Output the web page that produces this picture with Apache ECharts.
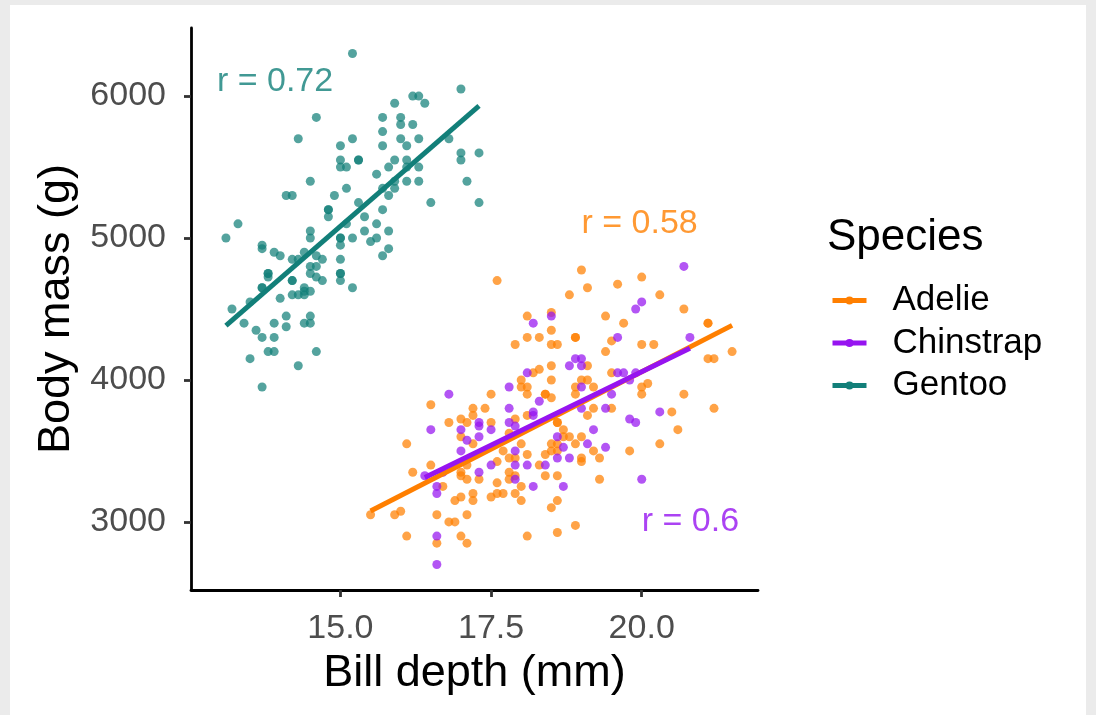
<!DOCTYPE html>
<html><head><meta charset="utf-8">
<script src="https://cdn.jsdelivr.net/npm/echarts@6/dist/echarts.min.js"></script>
<style>
html,body{margin:0;padding:0;background:#ebebeb;}
#bg{position:absolute;left:10px;top:5px;width:1076px;height:710px;background:#fff;}
#chart{position:absolute;left:0;top:0;width:1096px;height:715px;}
</style></head><body>
<div id="bg"></div><div id="chart"></div>
<script>
// ---- data ----
const speciesNames = ['Adelie', 'Chinstrap', 'Gentoo'];
const xTicks = [15, 17.5, 20];
const yTicks = [3000, 4000, 5000, 6000];
const corrLabels = ['r = 0.58', 'r = 0.6', 'r = 0.72'];
const corrLabelX = [19.0, 20.0, 12.95];
const corrLabelY = [5100, 3000, 6100];

const adelieDepth = [17.6,16.5,17.2,17.4,17.5,19.0,19.1,18.8,18.1,18.5,19.4,18.5,18.1,18.3,18.9,18.9,17.9,18.5,18.6,19.4,19.5,19.1,18.5,18.3,18.2,18.0,18.5,19.0,19.1,18.0,18.1,18.9,19.2,18.1,18.4,18.4,18.5,18.9,
20.0,19.6,20.3,20.7,19.7,21.1,21.1,20.0,20.2,21.5,21.1,21.2,19.5,20.1,20.0,20.0,20.7,
19.5,20.5,21.2,20.6,20.3,19.8,19.3,19.3,
17.2,16.8,17.0,17.1,17.0,17.2,16.1,16.5,16.2,17.0,17.0,17.1,17.1,17.3,16.7,17.2,17.2,16.9,17.0,17.5,15.5,15.9,16.0,16.6,16.8,16.9,17.1,16.1,16.6,17.0,17.1,
17.9,18.1,17.5,17.8,18.6,18.6,18.7,18.7,18.8,19.0,19.2,19.1,18.9,18.5,18.6,18.0,19.2,18.5,18.6,18.4,18.1,17.7,17.8,17.9,17.6,18.3,19.0,19.0,17.8,17.9,17.8,17.6,18.0,18.4,18.6,17.6,17.7,17.9,18.0,18.6,18.5,18.9,18.1,18.6];
const adelieMass = [4700,3825,3800,3800,3900,4775,4650,4600,4450,4475,4450,4350,4300,4300,4300,4300,4250,4250,4250,4200,4275,4100,4100,4075,4050,4000,4000,4000,4000,3950,3950,3950,3950,3900,3900,3900,3875,3900,
4725,4675,4600,4500,4400,4400,4400,4250,4250,4200,4150,4150,4050,3975,3950,3900,3900,
3800,3775,3800,3650,3550,3500,3450,3300,
3750,3700,3725,3700,3600,3550,3550,3400,3350,3350,3325,3400,3300,3300,3250,3200,3150,3150,3175,3175,3050,3050,3075,3050,3000,3000,3050,2900,2850,2900,2850,
3725,3750,3700,3625,3700,3700,3650,3600,3600,3600,3800,3750,3550,3550,3550,3550,3500,3500,3500,3475,3475,3500,3450,3450,3425,3400,3450,3425,3350,3325,3300,3275,3250,3325,3325,3200,3200,3200,3150,3150,3100,2975,2900,2925];

const chinstrapDepth = [16.8,18.2,18.5,18.9,19.0,18.8,19.0,18.1,17.8,19.0,18.3,20.7,20.0,19.9,19.6,20.8,19.6,19.7,19.9,19.8,19.5,19.4,19.8,19.9,20.3,19.4,20.0,
16.4,17.3,17.3,16.5,17.0,17.3,17.1,17.0,16.7,17.3,16.6,16.6,16.6,16.6,
17.8,18.2,18.2,17.8,17.9,17.5,18.6,19.0,19.2,19.1,18.7,17.9,17.5,17.9,18.1,18.4,18.6,18.8,17.9,18.2,18.7];
const chinstrapMass = [3900,4400,4450,4150,4150,4100,4100,4050,3950,3950,3850,4800,4550,4500,4300,4300,4050,4050,4050,4000,3900,3800,3725,3700,3775,3525,3300,
3325,3700,3675,3650,3650,3600,3575,3500,3350,3350,3250,3200,2900,2700,
3800,3775,3750,3700,3675,3650,3600,3800,3650,3550,3525,3500,3400,3400,3400,3400,3450,3450,3300,3250,3250];

const gentooDepth = [14.6,14.3,15.0,15.0,15.0,14.5,14.1,14.2,14.9,14.8,14.8,14.8,13.3,13.1,
15.2,17.0,16.2,16.3,15.9,16.4,15.7,16.0,16.0,16.2,15.7,15.2,16.0,16.3,16.8,15.7,16.1,17.0,17.3,15.3,15.3,15.9,16.1,17.0,15.1,15.8,16.1,16.3,15.6,15.1,15.7,15.9,15.9,16.1,16.3,17.1,15.8,16.5,17.3,15.3,15.7,15.4,
14.5,14.5,13.7,13.7,13.9,14.0,14.4,14.2,14.3,14.6,14.7,14.5,14.6,14.5,14.6,14.7,13.8,13.8,13.8,14.2,14.2,13.7,13.7,13.5,14.0,14.2,14.3,14.4,14.5,14.4,14.4,13.2,13.4,13.6,13.7,13.9,13.9,14.1,14.1,14.4,14.5,14.5,13.8,13.9,14.6,13.5,14.3,13.7,
15.1,15.6,15.0,15.0,15.2,15.4,15.6,15.5,15.8,15.8,15.7,15.0,15.0,15.0,15.0,15.0,15.2];
const gentooMass = [5850,5700,5650,5550,5500,5400,5300,5300,5300,5200,5200,5150,5100,5000,
6300,6050,6000,6000,5950,5950,5850,5850,5800,5800,5750,5700,5700,5700,5700,5650,5650,5600,5600,5550,5550,5550,5550,5550,5500,5500,5500,5500,5450,5350,5350,5350,5400,5400,5400,5400,5300,5250,5250,5250,5200,5150,
5050,5000,4950,4925,4900,4875,4900,4850,4850,4875,4850,4800,4800,4750,4725,4700,4750,4750,4725,4700,4700,4650,4650,4550,4575,4600,4600,4600,4625,4650,4625,4500,4400,4350,4300,4400,4300,4450,4375,4400,4400,4450,4200,4200,4200,4150,4100,3950,
5100,5100,5000,5000,5000,5050,5000,4975,5050,4925,4875,4950,4850,4750,4750,4700,4650];

// ---- helpers ----
const FONT = '"Liberation Sans", Arial, Helvetica, sans-serif';
const colors = {Adelie: '#FF7F00', Chinstrap: '#9614F0', Gentoo: '#127F79'};
const pts = {
  Adelie: adelieDepth.map((d, i) => [d, adelieMass[i]]),
  Chinstrap: chinstrapDepth.map((d, i) => [d, chinstrapMass[i]]),
  Gentoo: gentooDepth.map((d, i) => [d, gentooMass[i]])
};
function fitLine(xs, ys) {
  const n = xs.length;
  const mx = xs.reduce((a, b) => a + b, 0) / n;
  const my = ys.reduce((a, b) => a + b, 0) / n;
  let sxy = 0, sxx = 0;
  for (let i = 0; i < n; i++) { sxy += (xs[i] - mx) * (ys[i] - my); sxx += (xs[i] - mx) ** 2; }
  const b = sxy / sxx, a = my - b * mx;
  const x0 = Math.min(...xs), x1 = Math.max(...xs);
  return [[x0, a + b * x0], [x1, a + b * x1]];
}
const fits = {
  Adelie: fitLine(adelieDepth, adelieMass),
  Chinstrap: fitLine(chinstrapDepth, chinstrapMass),
  Gentoo: fitLine(gentooDepth, gentooMass)
};

const series = [];
// regression lines (listed first so legend uses the line icon; drawn above points by z)
speciesNames.forEach(s => {
  series.push({
    name: s, type: 'line', data: fits[s], z: 4, symbol: 'circle', showSymbol: false,
    lineStyle: {color: colors[s], width: 5}, itemStyle: {color: colors[s]},
    silent: true, animation: false
  });
});
// points in row order of the data set: Adelie, Gentoo, Chinstrap
['Adelie', 'Gentoo', 'Chinstrap'].forEach(s => {
  series.push({
    name: s, type: 'scatter', data: pts[s], z: 2, symbolSize: 9,
    itemStyle: {color: colors[s], opacity: 0.72}, silent: true, animation: false
  });
});
// correlation labels
speciesNames.forEach((s, i) => {
  series.push({
    name: 'lab' + s, type: 'scatter', data: [[corrLabelX[i], corrLabelY[i]]], symbolSize: 0, z: 5,
    label: {show: true, position: 'right', distance: 0, formatter: corrLabels[i],
      color: colors[s], fontSize: 34, fontFamily: FONT},
    silent: true, animation: false
  });
});

const chart = echarts.init(document.getElementById('chart'));
chart.setOption({
  backgroundColor: 'transparent',
  animation: false,
  grid: {left: 191, top: 28, width: 567, height: 562},
  xAxis: {
    type: 'value', min: 12.52, max: 21.93,
    name: 'Bill depth (mm)', nameLocation: 'middle', nameGap: 60,
    nameTextStyle: {fontSize: 45, color: '#000', fontFamily: FONT},
    splitLine: {show: false},
    axisLine: {show: true, onZero: false, lineStyle: {color: '#000', width: 2.8}},
    axisTick: {show: true, customValues: xTicks, length: 7, lineStyle: {color: '#333', width: 2.8}},
    axisLabel: {customValues: xTicks, formatter: v => v.toFixed(1), fontSize: 34, color: '#4D4D4D', margin: 22, fontFamily: FONT}
  },
  yAxis: {
    type: 'value', min: 2520, max: 6480,
    name: 'Body mass (g)', nameLocation: 'middle', nameGap: 107, nameRotate: 90,
    nameTextStyle: {fontSize: 45, color: '#000', fontFamily: FONT},
    splitLine: {show: false},
    axisLine: {show: true, onZero: false, lineStyle: {color: '#000', width: 2.8}},
    axisTick: {show: true, customValues: yTicks, length: 7, lineStyle: {color: '#333', width: 2.8}},
    axisLabel: {customValues: yTicks, formatter: v => String(v), fontSize: 34, color: '#4D4D4D', margin: 25, fontFamily: FONT}
  },
  legend: {
    data: speciesNames, orient: 'vertical', left: 830, top: 283, padding: 0,
    itemWidth: 34, itemHeight: 10, itemGap: 7.5,
    lineStyle: {width: 5},
    textStyle: {fontSize: 35, lineHeight: 35, color: '#000', fontFamily: FONT, padding: [0, 0, 0, 21]},
    selectedMode: false
  },
  graphic: [{
    type: 'text', left: 827, top: 216,
    style: {text: 'Species', font: '44px ' + FONT, fill: '#000'}
  }],
  series: series
});
</script>
</body></html>
